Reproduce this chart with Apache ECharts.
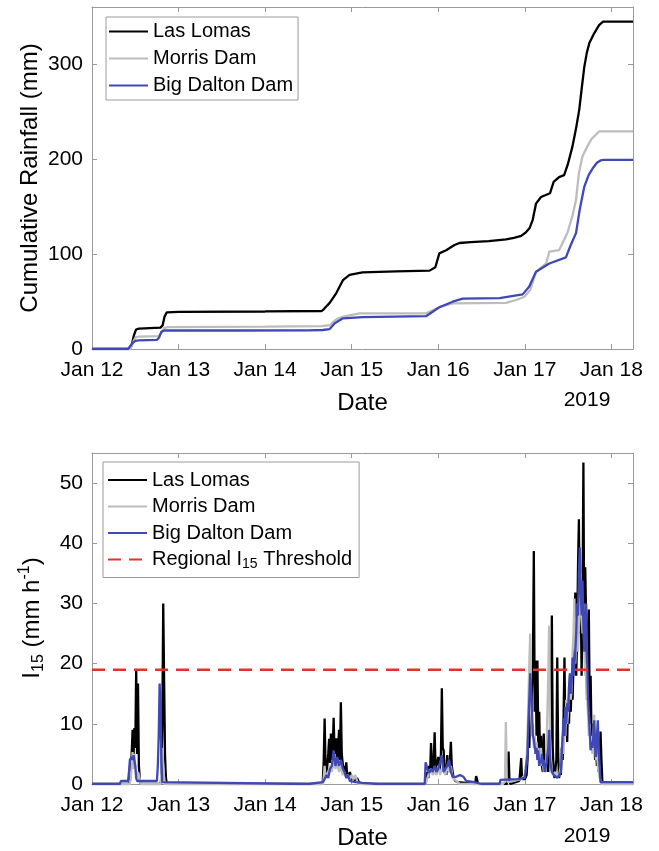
<!DOCTYPE html>
<html>
<head>
<meta charset="utf-8">
<script src="https://cdn.jsdelivr.net/npm/echarts@6.0.0/dist/echarts.min.js"></script>
<style>
  html, body { margin: 0; padding: 0; background: #fff; }
  #chart { width: 659px; height: 851px; }
</style>
</head>
<body>
<div id="chart"></div>
<script>
// x values are hours after Jan 12 00:00 (2019)
const dayLabels = ["Jan 12", "Jan 13", "Jan 14", "Jan 15", "Jan 16", "Jan 17", "Jan 18"];
const seriesNames = ["Las Lomas", "Morris Dam", "Big Dalton Dam"];
const thresholdName = "Regional I15 Threshold";
const thresholdValue = 19;

// cumulative rainfall (mm)
const lasLomasCum = [[0,0],[10.4,0],[11,4],[11.6,14],[12.2,20.5],[13,21.5],[19,22.5],[19.6,25],[20.1,34],[20.7,38.5],[24,39],[48,39.5],[63.7,40],[64.3,42],[65,45],[65.9,48.5],[67.7,58.6],[69.6,72.6],[71.4,78],[75,80.7],[84.3,81.8],[93.6,82.5],[95.2,86],[96.3,100.7],[98.2,104],[100.5,109.5],[101.9,111.6],[105,112.5],[110,113.5],[114.8,115.5],[117,117],[119,119],[120.3,122.8],[121.3,127],[122.2,136],[123.1,153],[124.5,160],[127,164],[128,176],[129.5,181],[130.9,183],[131.9,194],[133.2,213],[134.2,232],[135.1,252],[135.8,275],[136.5,297],[137.2,312],[137.9,322],[139.2,332],[140.6,341],[141.7,344.6],[150,344.6]];
const morrisCum = [[0,0],[10.6,0],[11,3],[11.6,9],[12.2,12.5],[13,13],[18.5,13.5],[19.3,17],[20,22],[21,23],[48,23.5],[63.5,24],[65.9,25],[67.3,30],[68.5,32.6],[70,34.4],[74.2,37.5],[92.6,37.5],[96.3,44],[100,48],[114.8,48.5],[117.6,51.6],[119.9,55],[121.5,62],[123.1,81],[125.9,90],[126.8,102.5],[129.5,104],[131.8,122],[133.2,140],[134.2,157],[135,185],[136,203],[137.3,213],[138.5,221],[140.6,229],[150,229]];
const bigDaltonCum = [[0,0],[10,0],[10.5,1.5],[11.2,6],[12,8.5],[13,9],[18,9.5],[18.6,12],[19.2,18],[20,19.5],[40,19.5],[60,19.7],[64,20],[65.9,21],[67.3,27],[69.6,32.3],[75,33.5],[92.6,34.5],[96.3,44],[100,49.8],[102.8,53],[113,53.5],[119.4,57.5],[121.2,65.6],[123.1,81.4],[126.8,90],[131.4,96.5],[132.8,110],[134.2,122],[135.2,146],[136.5,171],[137.7,183],[138.8,190],[140,196],[141,198.5],[142,199],[150,199]];

// 15-minute intensity I15 (mm/h)
const lasLomasI15 = [[0,0],[10.25,0],[10.5,0.5],[10.75,2],[11,5],[11.25,9],[11.5,4],[11.75,9.3],[12,6],[12.25,19],[12.5,5],[12.75,16.7],[13,3],[13.25,0.8],[13.5,0],
  [19,0],[19.25,1],[19.5,10],[19.75,30],[20,17],[20.25,4.5],[20.5,1],[20.75,0],
  [63.75,0],[64,0.5],[64.25,4],[64.5,10.9],[64.75,3],[65,1.5],[65.25,3],[65.5,5],[65.75,7.5],[66,3.5],[66.25,8.4],[66.5,4],[66.75,6],[67,11],[67.25,5],[67.5,6.5],[67.75,7.6],[68,3],[68.25,6],[68.5,9],[68.75,4],[69,13.6],[69.25,5],[69.5,3.5],[69.75,2],[70,3],[70.25,2],[70.5,3.6],[70.75,1.5],[71,1],[71.5,2],[72,0.8],[72.5,1.2],[73,0.5],[73.5,1],[74,0.3],[75,0],
  [92.5,0],[92.75,1],[93,2],[93.25,1],[93.5,3],[93.75,2],[94,6.8],[94.25,3],[94.5,2],[94.75,4],[95,8.6],[95.25,3],[95.5,2],[95.75,3.5],[96,4.5],[96.25,2],[96.5,3],[96.75,5],[97,15.9],[97.25,6],[97.5,5.6],[97.75,2.5],[98,3],[98.25,1.5],[98.5,4.8],[98.75,2],[99,2.5],[99.25,4],[99.5,7],[99.75,3],[100,2],[100.25,1],[100.5,1.2],[100.75,0.5],[101,0.8],[101.5,0.3],[102,0],[106.25,0],[106.5,1.3],[106.75,0.8],[107,0],
  [115,0],[115.25,1],[115.5,5.4],[115.75,0.5],[116,0],[118.5,0.5],[119,4.3],[119.25,0.8],[119.5,0.5],[120,0.8],[120.5,1.5],[120.75,4],[121,9],[121.25,6],[121.5,12],[121.75,9],[122,16],[122.25,20],[122.5,38.7],[122.75,12],[123,20.5],[123.25,8],[123.5,20.5],[123.75,6],[124,12],[124.25,4],[124.5,8],[124.75,3],[125,2],[125.25,8.4],[125.5,3],[125.75,5],[126,2],[126.25,6],[126.5,2],[126.75,8],[127,4],[127.25,14],[127.5,28],[127.75,6],[128,2],[128.25,1],[128.5,0.8],[128.75,4],[129,21],[129.25,5],[129.5,1],[129.75,2],[130,1.5],[130.25,6],[130.5,4],[130.75,11],[131,21],[131.25,8],[131.5,12],[131.75,7],[132,14],[132.25,10],[132.5,16],[132.75,12],[133,18],[133.25,14],[133.5,20],[133.75,26],[134,31.8],[134.25,18],[134.5,24],[134.75,36],[135,44],[135.25,25],[135.5,32],[135.75,18],[136,30],[136.25,53.4],[136.5,22],[136.75,36],[137,28],[137.25,14],[137.5,22],[137.75,29],[138,12],[138.25,18],[138.5,8],[138.75,10],[139,6],[139.25,8],[139.5,4],[139.75,6],[140,3],[140.25,5],[140.5,2],[140.75,4],[141,8.7],[141.25,4],[141.5,0.5],[141.75,0],[150,0]];
const morrisI15 = [[0,0],[10.5,0],[10.75,1],[11,3],[11.25,5.3],[11.5,2.5],[11.75,5],[12,3],[12.25,1.5],[12.5,1],[12.75,2],[13,1.5],[13.25,0.8],[13.5,0],
  [19,0],[19.25,2],[19.5,6],[19.75,3],[20,1],[20.25,0],
  [64,0],[64.25,1],[64.5,3],[64.75,1],[65.5,2],[66,3],[66.5,2],[67,4],[67.5,2.5],[68,3.5],[68.5,2],[69,3],[69.5,1.5],[70,2],[70.5,1],[71,1.5],[71.5,0.8],[72,1.5],[72.5,0.8],[73,1.5],[73.5,0.5],[74,0],
  [92.5,0],[93,1],[93.5,2],[94,2.5],[94.5,1.5],[95,2],[95.5,1.5],[96,3],[96.5,1.5],[97,2.5],[97.5,2],[98,1.5],[98.5,3],[99,2],[99.5,3],[100,1],[100.5,0.8],[101,0.5],[102,0],
  [114,0],[114.5,0.5],[114.75,10.3],[115,1],[115.25,0.3],[117,0.5],[119,0.8],[120,1.5],[120.5,4],[120.75,8],[121,14],[121.25,20],[121.5,25],[121.75,12],[122,8],[122.25,10],[122.5,6],[122.75,8],[123,5],[123.25,7],[123.5,4],[123.75,6],[124,3],[124.25,5],[124.5,6],[124.75,3],[125,4],[125.25,2],[125.5,3],[125.75,2],[126,5],[126.5,18],[126.75,26.3],[127,8],[127.25,4],[127.5,2],[128,1.5],[128.5,2],[129,1],[129.5,1.5],[130,3],[130.25,6],[130.5,8],[130.75,5],[131,10],[131.25,8],[131.5,14],[131.75,10],[132,12],[132.25,16],[132.5,18],[132.75,14],[133,16],[133.25,22],[133.5,25],[133.75,30.8],[134,20],[134.25,24],[134.5,28],[134.75,22],[135,26],[135.25,30],[135.5,35],[135.75,28],[136,25],[136.25,30],[136.5,22],[136.75,18],[137,20],[137.25,15],[137.5,12],[137.75,8],[138,10],[138.25,6],[138.5,7],[138.75,5],[139,8],[139.25,11.5],[139.5,6],[139.75,4],[140,5],[140.25,3],[140.5,2],[140.75,1],[141,0.5],[141.25,0],[150,0]];
const bigDaltonI15 = [[0,0],[7.75,0],[8,0.5],[10,0.5],[10.25,2],[10.5,4],[10.75,4.3],[11,4.5],[11.25,4],[11.5,4.8],[11.75,4.5],[12,3],[12.25,1],[12.5,0.5],[18,0.5],[18.25,3],[18.5,8],[18.75,16.7],[19,12],[19.25,4],[19.5,0.3],[19.75,0],
  [60,0],[60.25,0.3],[64,0.3],[64.5,0.8],[65,1.5],[65.5,1],[66,2.5],[66.5,3],[67,5.6],[67.25,4.5],[67.5,3],[68,4.5],[68.5,3],[69,4],[69.5,2.6],[70,2],[70.5,1],[71,1.5],[71.5,0.5],[73,0.3],[75,0.2],[79.5,0],
  [92.25,0],[92.5,3.6],[93,2.5],[93.5,1.8],[94,2.5],[94.5,2],[95,3],[95.5,2],[96,2.5],[96.5,3.5],[97,4.8],[97.5,2],[98,2.5],[98.5,3],[99,4],[99.5,2],[100,1.2],[100.5,1.5],[101,1.2],[102,1.5],[103,1.2],[103.75,0.5],[106,0.3],[108,0],
  [113,0],[113.25,0.7],[118,0.8],[120,1],[120.5,1.2],[120.75,5],[121,10],[121.25,14],[121.5,18.4],[121.75,16],[122,12],[122.25,8],[122.5,7.3],[122.75,7],[123,5],[123.25,6],[123.5,4],[123.75,5.6],[124,3],[124.25,4],[124.5,3.5],[124.75,5],[125,3],[125.25,4],[125.5,2],[126,3.5],[126.5,6],[126.75,9],[127,4],[127.5,2],[128,1.5],[128.5,1.5],[129,1],[129.5,1.5],[130,2],[130.25,5],[130.5,8],[130.75,11],[131,8],[131.25,12.8],[131.5,10],[131.75,13.4],[132,12],[132.25,16],[132.5,18.4],[132.75,15],[133,17],[133.25,21],[133.5,18],[133.75,20],[134,22],[134.25,25],[134.5,30],[134.75,28],[135,35],[135.25,39.3],[135.5,32],[135.75,28],[136,33.8],[136.25,26],[136.5,22],[136.75,28],[137,30],[137.25,22],[137.5,15],[137.75,11.7],[138,12],[138.25,5.6],[138.5,7],[138.75,6],[139,8],[139.25,10.6],[139.5,6],[139.75,4.5],[140,8],[140.25,10.6],[140.5,6],[140.75,3],[141,0.3],[150,0.3]];

const colors = ["#000000", "#bdbdbd", "#3f48b5"];
const FONT = "'Liberation Sans', Arial, Helvetica, sans-serif";
const AXIS_GRAY = "#9a9a9a";

const chart = echarts.init(document.getElementById("chart"), null, { renderer: "canvas" });

const xBase = (gridIndex, pos, withLabels) => ({
  type: "value", gridIndex, position: pos, min: 0, max: 150, interval: 24,
  axisLine: { show: true, onZero: false, lineStyle: { color: AXIS_GRAY, width: 1 } },
  axisTick: { show: true, inside: true, length: 5, lineStyle: { color: AXIS_GRAY } },
  splitLine: { show: false },
  axisLabel: {
    show: withLabels, margin: 11, showMaxLabel: false,
    color: "#000", fontSize: 21, fontFamily: FONT,
    formatter: v => dayLabels[v / 24] || ""
  },
  name: withLabels ? "Date" : "", nameLocation: "middle", nameGap: 42,
  nameTextStyle: { color: "#000", fontSize: 24, fontFamily: FONT }
});
const yBase = (gridIndex, pos, max, interval, withLabels) => ({
  type: "value", gridIndex, position: pos, min: 0, max, interval,
  axisLine: { show: true, onZero: false, lineStyle: { color: AXIS_GRAY, width: 1 } },
  axisTick: { show: true, inside: true, length: 5, lineStyle: { color: AXIS_GRAY } },
  splitLine: { show: false },
  axisLabel: { show: withLabels, margin: 9, showMaxLabel: false, color: "#000", fontSize: 21, fontFamily: FONT }
});

const lineSeries = (name, data, color, xi, yi, z) => ({
  name, type: "line", data, xAxisIndex: xi, yAxisIndex: yi,
  symbol: "none", showSymbol: false, z,
  lineStyle: { color, width: 2.3 }, itemStyle: { color },
  emphasis: { disabled: true }
});

const legendText = { color: "#000", fontSize: 20, fontFamily: FONT };

chart.setOption({
  animation: false,
  backgroundColor: "#fff",
  grid: [
    { left: 92, top: 7, width: 541, height: 342, outerBoundsMode: "none" },
    { left: 92, top: 453, width: 541, height: 331, outerBoundsMode: "none" }
  ],
  xAxis: [xBase(0, "bottom", true), xBase(0, "top", false), xBase(1, "bottom", true), xBase(1, "top", false)],
  yAxis: [yBase(0, "left", 360, 100, true), yBase(0, "right", 360, 100, false),
          yBase(1, "left", 55, 10, true), yBase(1, "right", 55, 10, false)],
  legend: [
    {
      data: seriesNames.map(n => n), orient: "vertical", left: 106, top: 17,
      itemWidth: 39, itemHeight: 14, itemGap: 4, padding: [3, 5, 3, 2],
      borderColor: AXIS_GRAY, borderWidth: 1, backgroundColor: "#fff",
      itemStyle: { opacity: 0 },
      textStyle: Object.assign({ lineHeight: 23 }, legendText),
      selectedMode: false
    },
    {
      data: seriesNames.map(n => n + " ").concat([thresholdName]), orient: "vertical", left: 103, top: 462,
      itemWidth: 39, itemHeight: 14, itemGap: 2.5, padding: [6, 7, 6, 4],
      borderColor: AXIS_GRAY, borderWidth: 1, backgroundColor: "#fff",
      itemStyle: { opacity: 0 },
      selectedMode: false,
      formatter: n => n === thresholdName ? "Regional I{sub|15} Threshold" : n.trim(),
      textStyle: Object.assign({
        lineHeight: 24,
        rich: { sub: { fontSize: 14, fontFamily: FONT, color: "#000", verticalAlign: "bottom", lineHeight: 10 } }
      }, legendText)
    }
  ],
  graphic: [
    {
      type: "text", x: 30, y: 178, rotation: Math.PI / 2,
      style: { text: "Cumulative Rainfall (mm)", fill: "#000", font: "24px " + FONT, align: "center", verticalAlign: "middle" }
    },
    {
      type: "text", x: 32, y: 618, rotation: Math.PI / 2,
      style: {
        text: "{a|I}{b|15}{a| (mm h}{c|-1}{a|)}", align: "center", verticalAlign: "middle",
        rich: {
          a: { fontSize: 24, fontFamily: FONT, fill: "#000", lineHeight: 30 },
          b: { fontSize: 16, fontFamily: FONT, fill: "#000", lineHeight: 12, verticalAlign: "bottom" },
          c: { fontSize: 16, fontFamily: FONT, fill: "#000", lineHeight: 12, verticalAlign: "top" }
        }
      }
    },
    { type: "text", x: 587, y: 400, style: { text: "2019", fill: "#000", font: "21px " + FONT, align: "center", verticalAlign: "middle" } },
    { type: "text", x: 587, y: 836, style: { text: "2019", fill: "#000", font: "21px " + FONT, align: "center", verticalAlign: "middle" } }
  ],
  series: [
    lineSeries(seriesNames[0], lasLomasCum, colors[0], 0, 0, 2),
    lineSeries(seriesNames[1], morrisCum, colors[1], 0, 0, 3),
    lineSeries(seriesNames[2], bigDaltonCum, colors[2], 0, 0, 4),
    lineSeries(seriesNames[0] + " ", lasLomasI15, colors[0], 2, 2, 2),
    lineSeries(seriesNames[1] + " ", morrisI15, colors[1], 2, 2, 3),
    lineSeries(seriesNames[2] + " ", bigDaltonI15, colors[2], 2, 2, 4),
    {
      name: thresholdName, type: "line", xAxisIndex: 2, yAxisIndex: 2, z: 5,
      data: [[0, thresholdValue], [150, thresholdValue]],
      symbol: "none", showSymbol: false,
      lineStyle: { color: "#e8302a", width: 2.5, type: [13, 8] }, itemStyle: { color: "#e8302a" },
      emphasis: { disabled: true }
    }
  ]
});
</script>
</body>
</html>
